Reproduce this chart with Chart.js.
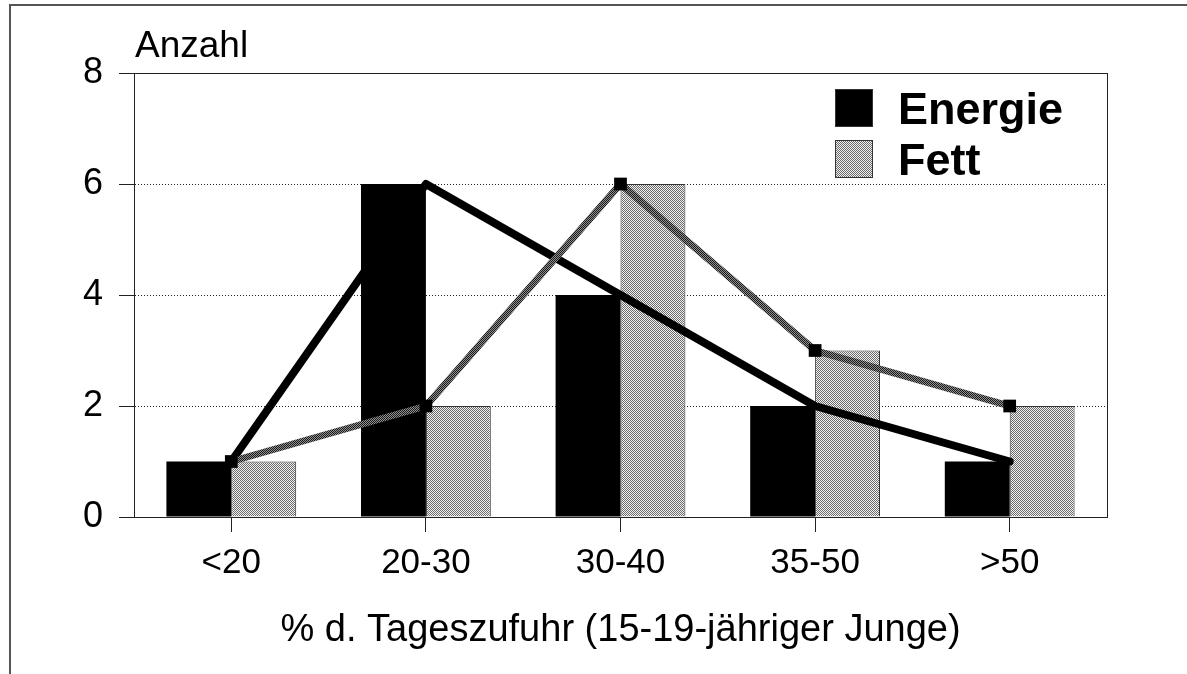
<!DOCTYPE html>
<html>
<head>
<meta charset="utf-8">
<script src="https://cdn.jsdelivr.net/npm/chart.js@4"></script>
<style>
  html, body { margin: 0; padding: 0; background: #fff; }
</style>
</head>
<body>
<canvas id="chart" width="1187" height="674"></canvas>
<script>
const categories = ['<20', '20-30', '30-40', '35-50', '>50'];
const energie = [1, 6, 4, 2, 1];
const fett = [1, 2, 6, 3, 2];
const yTicks = [0, 2, 4, 6, 8];
const seriesNames = ['Energie', 'Fett'];
const yTitle = 'Anzahl';
const xTitle = '% d. Tageszufuhr (15-19-jähriger Junge)';

const FONT = '"Liberation Sans", Arial, sans-serif';
const canvas = document.getElementById('chart');
const ctx = canvas.getContext('2d');

// small checker pattern to imitate the printed raster
function makePattern(dark, light) {
    const c = document.createElement('canvas');
    c.width = 2; c.height = 2;
    const g = c.getContext('2d');
    g.fillStyle = light; g.fillRect(0, 0, 2, 2);
    g.fillStyle = dark; g.fillRect(0, 0, 1, 1); g.fillRect(1, 1, 1, 1);
    return ctx.createPattern(c, 'repeat');
}

const fettFill = makePattern('#6a6a6a', '#f2f2f2');
const fettLine = makePattern('#1a1a1a', '#909090');

const decorPlugin = {
    id: 'decor',
    beforeDraw(chart) {
        const c = chart.ctx;
        c.save();
        c.strokeStyle = '#555';
        c.lineWidth = 2;
        c.beginPath();
        c.moveTo(10, 674); c.lineTo(10, 5); c.lineTo(1187, 5);
        c.stroke();
        c.restore();
    },
    afterDatasetsDraw(chart) {
        const c = chart.ctx;
        const a = chart.chartArea;
        c.save();
        c.strokeStyle = '#222';
        c.lineWidth = 1;
        c.strokeRect(a.left + 0.5, a.top + 0.5, a.right - a.left, a.bottom - a.top);

        c.fillStyle = '#000';
        c.font = '37px ' + FONT;
        c.textAlign = 'left';
        c.textBaseline = 'alphabetic';
        c.fillText(yTitle, 135, 57);

        // legend for the bar series
        const rows = [{y: 89}, {y: 140}];
        c.font = 'bold 45px ' + FONT;
        chart.data.datasets.filter(d => d.type === 'bar').forEach((d, i) => {
            const y = rows[i].y;
            c.fillStyle = d.backgroundColor;
            c.fillRect(835, y, 38, 38);
            c.strokeStyle = '#333';
            c.lineWidth = 1;
            c.strokeRect(835.5, y + 0.5, 37, 37);
            c.fillStyle = '#000';
            c.fillText(d.label, 898, y + 35);
        });
        c.restore();
    }
};

new Chart(canvas, {
    data: {
        labels: categories,
        datasets: [
            {
                type: 'bar', label: seriesNames[0], data: energie,
                backgroundColor: '#000', borderColor: '#000', borderWidth: 0,
                barPercentage: 1, categoryPercentage: 0.667, order: 3
            },
            {
                type: 'bar', label: seriesNames[1], data: fett,
                backgroundColor: fettFill, borderColor: '#333', borderWidth: 1,
                barPercentage: 1, categoryPercentage: 0.667, order: 3
            },
            {
                type: 'line', label: seriesNames[0], data: energie,
                borderColor: '#000', borderWidth: 8, pointRadius: 0,
                borderCapStyle: 'round', borderJoinStyle: 'round', tension: 0, order: 2
            },
            {
                type: 'line', label: seriesNames[1], data: fett,
                borderColor: fettLine, borderWidth: 7, tension: 0,
                pointStyle: 'rect', pointRadius: 9, pointBackgroundColor: '#000',
                pointBorderColor: '#000', pointBorderWidth: 0, order: 1
            }
        ]
    },
    options: {
        responsive: false,
        animation: false,
        layout: {padding: {top: 73, right: 80, bottom: 0, left: 0}},
        plugins: {
            legend: {display: false},
            tooltip: {enabled: false}
        },
        scales: {
            x: {
                offset: true,
                afterFit: (s) => { s.height = 157; },
                grid: {
                    offset: false, drawOnChartArea: false, drawTicks: true,
                    tickLength: 15, color: '#222', lineWidth: 1
                },
                border: {display: true, color: '#222', width: 1},
                ticks: {color: '#000', font: {family: FONT, size: 35}, padding: 10},
                title: {
                    display: true, text: xTitle, color: '#000',
                    font: {family: FONT, size: 38}, padding: {top: 0, bottom: 21}
                }
            },
            y: {
                min: 0, max: 8,
                afterFit: (s) => { s.width = 134; },
                afterBuildTicks: (s) => { s.ticks = yTicks.map(v => ({value: v})); },
                grid: {
                    color: '#222', lineWidth: 1, tickLength: 15,
                    tickColor: '#222', tickBorderDash: []
                },
                border: {display: true, color: '#222', width: 1, dash: [1, 2]},
                ticks: {color: '#000', font: {family: FONT, size: 36}, padding: 16}
            }
        }
    },
    plugins: [decorPlugin]
});
</script>
</body>
</html>
